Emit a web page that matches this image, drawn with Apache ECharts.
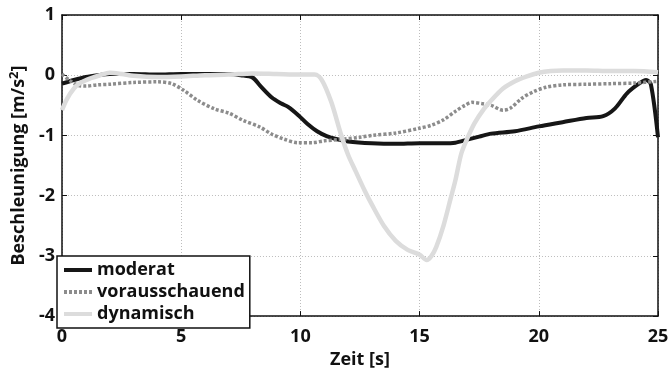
<!DOCTYPE html>
<html>
<head>
<meta charset="utf-8">
<script src="https://cdn.jsdelivr.net/npm/echarts@6/dist/echarts.min.js"></script>
<style>
  html, body { margin: 0; padding: 0; background: #fff; }
  #chart { width: 672px; height: 374px; }
</style>
</head>
<body>
<div id="chart"></div>
<script>
// Time axis ticks and value axis ticks
const xTicks = [0, 5, 10, 15, 20, 25];
const yTicks = [-4, -3, -2, -1, 0, 1];

// moderat: time [s] and acceleration [m/s^2]
const moderatT = [0, 0.5, 1, 1.5, 2, 3, 4, 5, 6, 7, 7.5, 8, 8.3, 8.8, 9.2, 9.5, 9.9, 10.3, 10.7, 11.1, 11.5, 12, 13, 14, 15, 16, 16.5, 17, 17.5, 18, 19, 20, 21, 22, 22.7, 23.2, 23.7, 24.2, 24.5, 24.7, 25];
const moderatV = [-0.14, -0.08, -0.03, 0, 0.02, 0.02, 0.01, 0.02, 0.02, 0.02, 0.0, -0.04, -0.17, -0.37, -0.47, -0.53, -0.66, -0.81, -0.93, -1.01, -1.06, -1.10, -1.13, -1.14, -1.13, -1.13, -1.12, -1.07, -1.02, -0.97, -0.93, -0.85, -0.78, -0.71, -0.68, -0.55, -0.3, -0.14, -0.08, -0.15, -1.03];

// vorausschauend
const vorT = [0, 0.3, 0.7, 1, 1.5, 2, 3, 4, 4.6, 5.1, 5.7, 6.4, 7, 7.6, 8.3, 8.8, 9.3, 9.9, 10.5, 11, 11.6, 12.5, 13, 14, 15, 15.5, 16, 16.5, 16.9, 17.2, 17.6, 18, 18.5, 18.8, 19.3, 19.8, 20.3, 21, 22, 23, 24, 25];
const vorV = [0.02, -0.08, -0.17, -0.18, -0.16, -0.15, -0.12, -0.11, -0.14, -0.25, -0.42, -0.56, -0.63, -0.75, -0.86, -0.98, -1.06, -1.12, -1.12, -1.09, -1.07, -1.03, -1.0, -0.96, -0.88, -0.83, -0.74, -0.6, -0.5, -0.45, -0.47, -0.5, -0.58, -0.55, -0.38, -0.27, -0.2, -0.16, -0.15, -0.14, -0.13, -0.1];

// dynamisch
const dynT = [0, 0.2, 0.5, 0.8, 1.2, 1.6, 2, 2.5, 3, 4, 5, 6, 7, 8, 9, 10, 10.6, 10.9, 11.3, 11.7, 12, 12.3, 12.7, 13, 13.5, 14, 14.5, 15, 15.3, 15.5, 15.7, 16, 16.3, 16.5, 16.75, 17, 17.3, 17.7, 18, 18.5, 19, 19.5, 20, 20.5, 21, 22, 23, 24, 25];
const dynV = [-0.58, -0.4, -0.22, -0.12, -0.05, 0.0, 0.04, 0.02, -0.01, -0.03, -0.02, 0.0, 0.01, 0.03, 0.02, 0.01, 0.01, -0.08, -0.45, -0.98, -1.32, -1.58, -1.92, -2.15, -2.5, -2.75, -2.9, -2.98, -3.07, -3.0, -2.85, -2.5, -2.05, -1.75, -1.3, -1.05, -0.8, -0.56, -0.42, -0.22, -0.1, -0.02, 0.04, 0.07, 0.08, 0.08, 0.07, 0.07, 0.05];

const pairs = (t, v) => t.map((x, i) => [x, v[i]]);

const FONT = '"Open Sans", "Noto Sans", sans-serif';
const labelStyle = { fontFamily: FONT, fontWeight: 'bold', fontSize: 18, color: '#111' };

const chart = echarts.init(document.getElementById('chart'), null, { renderer: 'canvas' });

const boxAxis = {
  axisLine: { show: true, onZero: false, lineStyle: { color: '#111', width: 1.5 } },
  axisTick: { show: true, inside: true, length: 5, lineStyle: { color: '#111', width: 1 } },
  axisLabel: { show: false },
  splitLine: { show: false }
};

chart.setOption({
  animation: false,
  backgroundColor: '#fff',
  grid: { left: 58, right: 14, top: 15, bottom: 43, show: false },
  xAxis: [
    Object.assign({}, boxAxis, {
      type: 'value', position: 'bottom',
      min: xTicks[0], max: xTicks[xTicks.length - 1], interval: 5,
      name: 'Zeit [s]', nameLocation: 'middle', nameGap: 32,
      nameTextStyle: labelStyle,
      axisLabel: Object.assign({ show: true, margin: 12 }, labelStyle),
      splitLine: { show: true, lineStyle: { color: '#bdbdbd', width: 1, type: [1, 2] } }
    }),
    Object.assign({}, boxAxis, {
      type: 'value', position: 'top',
      min: xTicks[0], max: xTicks[xTicks.length - 1], interval: 5
    })
  ],
  yAxis: [
    Object.assign({}, boxAxis, {
      type: 'value', position: 'left',
      min: yTicks[0], max: yTicks[yTicks.length - 1], interval: 1,
      name: 'Beschleunigung [m/s{sup|2}]', nameLocation: 'middle', nameGap: 21,
      nameTextStyle: Object.assign({}, labelStyle, {
        rich: { sup: { fontFamily: FONT, fontWeight: 'bold', fontSize: 13, color: '#111', padding: [0, 0, 9, 0] } }
      }),
      axisLabel: Object.assign({ show: true, margin: 7 }, labelStyle),
      splitLine: { show: true, lineStyle: { color: '#bdbdbd', width: 1, type: [1, 2] } }
    }),
    Object.assign({}, boxAxis, {
      type: 'value', position: 'right',
      min: yTicks[0], max: yTicks[yTicks.length - 1], interval: 1
    })
  ],
  legend: {
    orient: 'vertical',
    left: 57, top: 256,
    padding: [4, 5, 4, 5],
    itemGap: 2,
    itemWidth: 28, itemHeight: 14,
    backgroundColor: '#fff',
    borderColor: '#111', borderWidth: 1.5,
    itemStyle: { opacity: 0 },
    lineStyle: { width: 4 },
    textStyle: Object.assign({}, labelStyle, { lineHeight: 20 }),
    data: ['moderat', 'vorausschauend', 'dynamisch']
  },
  series: [
    {
      name: 'moderat', type: 'line', symbol: 'none', smooth: 0.3,
      data: pairs(moderatT, moderatV),
      lineStyle: { color: '#161616', width: 4 },
      itemStyle: { color: '#161616' }, z: 2
    },
    {
      name: 'vorausschauend', type: 'line', symbol: 'none', smooth: 0.3,
      data: pairs(vorT, vorV),
      lineStyle: { color: '#8c8c8c', width: 3.5, type: [3, 2] },
      itemStyle: { color: '#8c8c8c' }, z: 3
    },
    {
      name: 'dynamisch', type: 'line', symbol: 'none', smooth: 0.3,
      data: pairs(dynT, dynV),
      lineStyle: { color: '#dcdcdc', width: 4.5 },
      itemStyle: { color: '#dcdcdc' }, z: 4
    }
  ]
});
</script>
</body>
</html>
